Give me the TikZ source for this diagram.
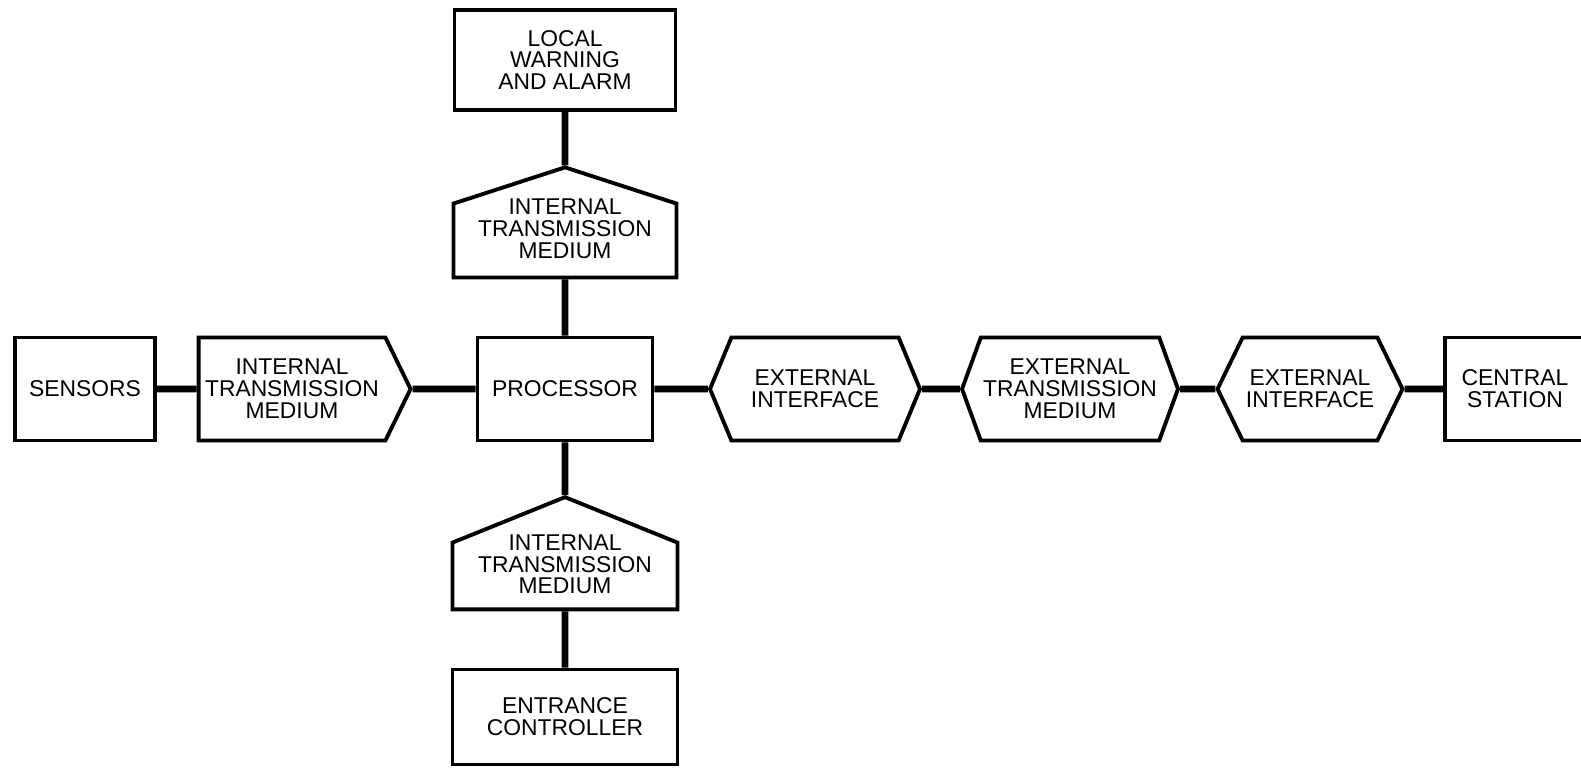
\documentclass[tikz,border=0pt]{standalone}
\usepackage{fontspec}
\setmainfont{Liberation Sans}
\usetikzlibrary{shapes.symbols}

\begin{document}
\begin{tikzpicture}[
    x=0.02cm, y=-0.02cm,
    unitbox/.style={rectangle, draw, line width=2.2pt, inner sep=0pt, align=center,
        font=\fontsize{13pt}{12.5pt}\selectfont, minimum height=2.06cm},
    mediumbox/.style={signal, draw, line width=2.2pt, inner sep=0pt, align=center,
        font=\fontsize{13pt}{12.5pt}\selectfont, minimum height=2.06cm},
    roofbox/.style={mediumbox, signal to=north, minimum height=1cm},
    link/.style={line width=3.8pt}
]
\useasboundingbox (0,0) rectangle (1581,767);

% Main chain, left to right
\node[unitbox, minimum width=2.8cm] (sensors) at (85,389) {SENSORS};
\node[mediumbox, signal to=east, signal pointer angle=128, minimum width=4.24cm] (itmleft) at (292,389) {INTERNAL\\TRANSMISSION\\MEDIUM};
\node[unitbox, minimum width=3.5cm] (proc) at (565,389) {PROCESSOR};
\node[mediumbox, signal to=east and west, signal pointer angle=135, minimum width=4.2cm] (extif1) at (815,389) {EXTERNAL\\INTERFACE};
\node[mediumbox, signal to=east and west, signal pointer angle=140, minimum width=4.32cm] (extmed) at (1070,389) {EXTERNAL\\TRANSMISSION\\MEDIUM};
\node[mediumbox, signal to=east and west, signal pointer angle=128, minimum width=3.7cm] (extif2) at (1310,389) {EXTERNAL\\INTERFACE};
\node[unitbox, minimum width=2.8cm] (central) at (1515,389) {CENTRAL\\STATION};

% Column through the processor (empty last line lifts the text into the roof)
\node[unitbox, minimum width=4.42cm, minimum height=2cm] (alarm) at (565,60) {LOCAL\\WARNING\\AND ALARM};
\node[roofbox, signal pointer angle=144, minimum width=4.46cm, inner ysep=-2.7pt] (itmtop) at (565,240.5) {INTERNAL\\TRANSMISSION\\MEDIUM\\[1pt]\mbox{}};
\node[roofbox, signal pointer angle=136, minimum width=4.5cm, inner ysep=-4.7pt] (itmbot) at (565,576) {INTERNAL\\TRANSMISSION\\MEDIUM\\[1pt]\mbox{}};
\node[unitbox, minimum width=4.5cm, minimum height=1.9cm] (entrance) at (565,717) {ENTRANCE\\CONTROLLER};

% Connectors
\draw[link] (sensors) -- (itmleft);
\draw[link] (itmleft) -- (proc);
\draw[link] (proc) -- (extif1);
\draw[link] (extif1) -- (extmed);
\draw[link] (extmed) -- (extif2);
\draw[link] (extif2) -- (central);
\draw[link] (alarm) -- (itmtop);
\draw[link] (itmtop) -- (proc);
\draw[link] (proc) -- (itmbot);
\draw[link] (itmbot) -- (entrance);
\end{tikzpicture}
\end{document}
